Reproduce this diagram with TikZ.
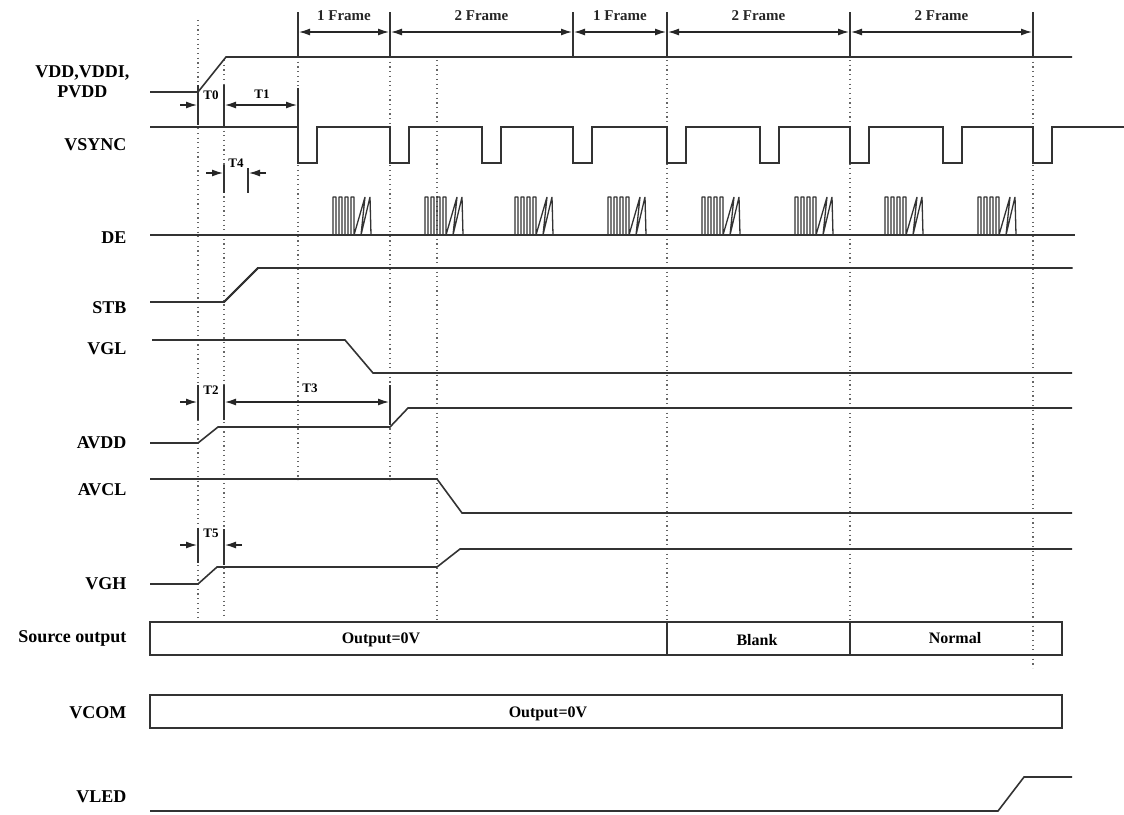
\documentclass[tikz,border=0pt]{standalone}
\usepackage{fontspec}
\setmainfont{Liberation Serif}
\usepackage{tikz}
\usetikzlibrary{arrows.meta}

\tikzset{
  sig/.style={line width=1.6pt, draw=black!80},
  guide/.style={line width=1.2pt, black!60, dash pattern=on 1.2pt off 3.5pt},
  bar/.style={line width=2.8pt, black!80},
  arr/.style={line width=1.3pt, black!85},
  lbl/.style={anchor=east, font=\fontsize{18}{20}\selectfont\bfseries},
  tm/.style={font=\fontsize{13}{14}\selectfont\bfseries, inner sep=1pt, fill=white},
  frm/.style={font=\fontsize{15}{17}\selectfont\bfseries},
  box/.style={font=\fontsize{16}{18}\selectfont\bfseries},
  >={Latex[length=11pt,width=7pt]}
}

\newcommand{\deburst}[1]{%
  \draw[line width=1.3pt, black!80, line join=bevel] (#1,235)
    \foreach \k in {1,...,3} {-- ++(0,-38) -- ++(3,0) -- ++(0,38) -- ++(3,0)}
    -- ++(0,-38) -- ++(3,0) -- ++(0,38)
    -- ++(11,-38) -- ++(-4,38) -- ++(9,-38) -- ++(1,38) -- ++(4,0);
}

\begin{document}
\begin{tikzpicture}[x=1pt,y=-1pt]
\useasboundingbox (0,0) rectangle (1124,814);

% dotted guides
\draw[guide] (198,20) -- (198,618);
\draw[guide] (224,60) -- (224,618);
\foreach \x in {298,390} \draw[guide] (\x,57) -- (\x,480);
\foreach \x in {437,667,850} \draw[guide] (\x,60) -- (\x,620);
\draw[guide] (1033,57) -- (1033,668);

% frame markers
\foreach \x [count=\i] in {298,390,573,667,850,1033} {
  \coordinate (f\i) at (\x,32);
  \draw[bar] (\x,12) -- (\x,57);
}
\foreach \a/\b/\t in {1/2/1 Frame,2/3/2 Frame,3/4/1 Frame,4/5/2 Frame,5/6/2 Frame}
  \draw[arr,<->,shorten <=1pt,shorten >=1pt] (f\a) -- (f\b) node[frm, midway, above=7pt] {\t};

% signal names
\node[lbl, align=center] (vdd) at (133,82) {VDD,VDDI,\\PVDD};
\node[lbl] (vsync) at (130,145) {VSYNC};
\node[lbl] (de) at (130,238) {DE};
\node[lbl] (stb) at (130,308) {STB};
\node[lbl] (vgl) at (130,349) {VGL};
\node[lbl] (avdd) at (130,443) {AVDD};
\node[lbl] (avcl) at (130,490) {AVCL};
\node[lbl] (vgh) at (130,584) {VGH};
\node[lbl] (src) at (130,638) {Source output};
\node[lbl] (vcom) at (130,713) {VCOM};
\node[lbl] (vled) at (130,797) {VLED};

% waveforms
\draw[sig] (150,92) -- (198,92) -- (226,57) -- (1072,57);
\draw[sig] (150,127)
  \foreach \p in {298,390,482,573,667,760,850,943,1033}
    {-- (\p,127) -- (\p,163) -- (\p+19,163) -- (\p+19,127)}
  -- (1124,127);
\draw[sig] (150,235) -- (1075,235);
\foreach \b in {333,425,515,608,702,795,885,978} \deburst{\b}
\draw[sig] (150,302) -- (224,302) -- (258,268) -- (1072,268);
\draw[sig] (152,340) -- (345,340) -- (373,373) -- (1072,373);
\draw[sig] (150,443) -- (198,443) -- (218,427) -- (390,427) -- (408,408) -- (1072,408);
\draw[sig] (150,479) -- (437,479) -- (462,513) -- (1072,513);
\draw[sig] (150,584) -- (198,584) -- (217,567) -- (437,567) -- (460,549) -- (1072,549);
\draw[sig] (150,811) -- (998,811) -- (1024,777) -- (1072,777);

% source output and vcom
\draw[sig] (150,622) rectangle (1062,655);
\draw[sig] (667,622) -- (667,655);
\draw[sig] (850,622) -- (850,655);
\node[box] (s1) at (381,640) {Output=0V};
\node[box] (s2) at (757,640) {Blank};
\node[box] (s3) at (955,638) {Normal};
\draw[sig] (150,695) rectangle (1062,728);
\node[box] (c1) at (548,714) {Output=0V};

% T0, T1
\draw[bar] (198,85) -- (198,125);
\draw[bar] (224,85) -- (224,127);
\draw[bar] (298,88) -- (298,127);
\coordinate (t0) at (197,105);
\coordinate (t1a) at (225,105);
\coordinate (t1b) at (297,105);
\draw[arr,->] (180,105) -- (t0);
\draw[arr,<->] (t1a) -- (t1b);
\node[tm] at (211,95) {T0};
\node[tm] at (262,94) {T1};

% T4
\draw[bar] (224,165) -- (224,193);
\draw[bar] (248,168) -- (248,193);
\draw[arr,->] (206,173) -- (223,173);
\draw[arr,->] (266,173) -- (249,173);
\node[tm] at (236,163) {T4};

% T2, T3
\draw[bar] (198,385) -- (198,420);
\draw[bar] (224,385) -- (224,420);
\draw[bar] (390,385) -- (390,425);
\coordinate (t3a) at (225,402);
\coordinate (t3b) at (389,402);
\draw[arr,->] (180,402) -- (197,402);
\draw[arr,<->] (t3a) -- (t3b);
\node[tm] at (211,390) {T2};
\node[tm] at (310,388) {T3};

% T5
\draw[bar] (198,528) -- (198,563);
\draw[bar] (224,529) -- (224,565);
\draw[arr,->] (180,545) -- (197,545);
\draw[arr,->] (242,545) -- (225,545);
\node[tm] at (211,533) {T5};
\end{tikzpicture}
\end{document}
